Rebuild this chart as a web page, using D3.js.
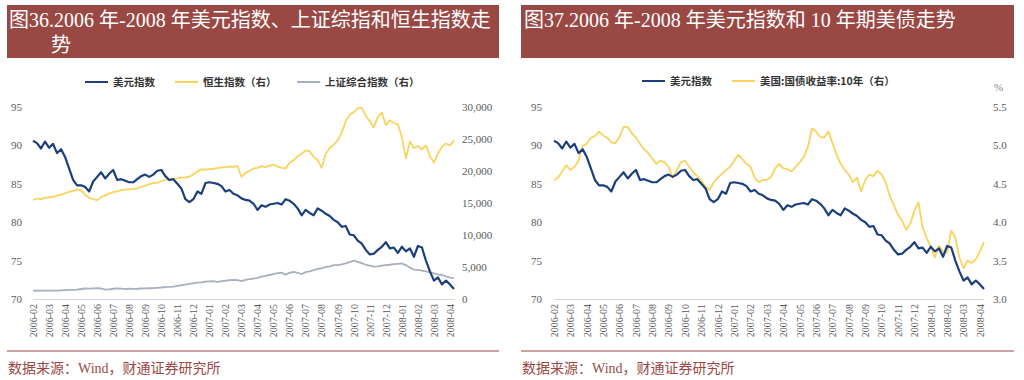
<!DOCTYPE html>
<html>
<head>
<meta charset="utf-8">
<script src="https://cdn.jsdelivr.net/npm/d3@7/dist/d3.min.js"></script>
<style>
    body { margin: 0; background: #fff; }
    svg { display: block; }
    .title { fill: #fff; font-family: "Liberation Serif", "Noto Sans CJK SC", serif; font-size: 20px; }
    .legend text { fill: #333; font-family: "Noto Sans CJK SC", sans-serif; font-size: 10.5px; font-weight: bold; }
    .axis text { fill: #595959; font-family: "Liberation Serif", serif; font-size: 11px; }
    .axis--x text { font-size: 10px; }
    .source { fill: #9a4844; font-family: "Liberation Serif", "Noto Sans CJK SC", serif; font-size: 14px; }
</style>
</head>
<body>
<svg id="chart" width="1024" height="380"></svg>
<script>
// month labels on the x axis
var months = [
    '2006-02', '2006-03', '2006-04', '2006-05', '2006-06', '2006-07', '2006-08', '2006-09',
    '2006-10', '2006-11', '2006-12', '2007-01', '2007-02', '2007-03', '2007-04', '2007-05',
    '2007-06', '2007-07', '2007-08', '2007-09', '2007-10', '2007-11', '2007-12', '2008-01',
    '2008-02', '2008-03', '2008-04'
];

// one value every quarter month, starting at 2006-02
var usdIndex = [
    90.6, 90.3, 89.6, 90.5,  89.7, 90.2, 89.0, 89.5,  88.5, 87.0, 85.5, 84.8,
    84.8, 84.6, 84.0, 85.3,  85.9, 86.5, 85.7, 86.3,  86.8, 85.5, 85.6, 85.4,
    85.2, 85.2, 85.6, 86.0,  86.2, 85.9, 86.2, 86.7,  86.8, 86.0, 85.5, 85.6,
    85.0, 84.4, 83.0, 82.6,  83.0, 84.0, 83.7, 85.1,  85.2, 85.1, 85.0, 84.7,
    84.0, 84.2, 83.7, 83.5,  83.1, 82.9, 82.8, 82.4,  81.6, 82.2, 82.0, 82.3,
    82.4, 82.5, 82.3, 83.0,  82.8, 82.4, 81.8, 80.9,  81.6, 81.2, 80.9, 81.8,
    81.5, 81.1, 80.8, 80.3,  80.0, 79.4, 79.5, 78.4,  78.3, 77.6, 77.2, 76.4,
    75.8, 75.9, 76.4, 76.8,  77.4, 76.6, 76.7, 76.0,  76.8, 76.2, 76.6, 75.5,
    76.9, 76.7, 75.0, 73.6,  72.4, 72.8, 71.9, 72.4,  71.9, 71.3
];

var hangSeng = [
    15470, 15700, 15600, 15800,  15900, 16000, 16100, 16300,  16550, 16750, 16900, 17100,
    17000, 16300, 15800, 15600,  15450, 15900, 16200, 16500,  16700, 16800, 17000, 17100,
    17150, 17200, 17300, 17500,  17700, 17950, 18100, 18200,  18400, 18600, 18700, 18800,
    18850, 18950, 19000, 19100,  19500, 19900, 20250, 20200,  20300, 20350, 20450, 20550,
    20600, 20700, 20650, 20750,  19100, 19700, 20000, 20400,  20500, 20750, 20600, 20850,
    21000, 20700, 20500, 20400,  21300, 21700, 22300, 22700,  23200, 23100, 22200, 21700,
    20500, 22700, 23600, 24100,  24800, 26000, 27800, 28800,  29200, 29800, 29900, 28600,
    27800, 26800, 28500, 29100,  27200, 27900, 27500, 27300,  25300, 22000, 24600, 23600,
    23900, 23400, 24000, 22300,  21300, 22700, 23800, 24300,  24000, 24800
];

var shanghai = [
    1300, 1290, 1300, 1320,  1300, 1320, 1310, 1340,  1380, 1420, 1440, 1480,
    1560, 1640, 1620, 1660,  1700, 1640, 1450, 1520,  1600, 1660, 1620, 1550,
    1600, 1580, 1600, 1640,  1650, 1680, 1700, 1750,  1800, 1840, 1880, 1950,
    2050, 2150, 2250, 2350,  2450, 2550, 2600, 2700,  2750, 2800, 2650, 2800,
    2850, 2950, 3000, 2950,  2800, 3000, 3100, 3200,  3300, 3500, 3600, 3750,
    3900, 4050, 4100, 3800,  4100, 4250, 4100, 3900,  4200, 4300, 4500, 4700,
    4800, 5000, 5100, 5300,  5300, 5400, 5550, 5750,  5990, 5800, 5600, 5350,
    5200, 5050, 5100, 5200,  5300, 5350, 5450, 5500,  5550, 5300, 4900, 4600,
    4550, 4450, 4300, 4150,  4000, 3850, 3750, 3550,  3350, 3250
];

var us10y = [
    4.55, 4.58, 4.66, 4.74,  4.68, 4.72, 4.80, 4.99,  5.02, 5.10, 5.12, 5.18,
    5.13, 5.10, 5.04, 5.03,  5.11, 5.24, 5.24, 5.16,  5.10, 5.02, 4.95, 4.90,
    4.83, 4.76, 4.80, 4.78,  4.72, 4.58, 4.68, 4.78,  4.80, 4.72, 4.65, 4.60,
    4.54, 4.46, 4.42, 4.52,  4.58, 4.63, 4.68, 4.72,  4.80, 4.88, 4.82, 4.76,
    4.72, 4.58, 4.52, 4.55,  4.55, 4.59, 4.70, 4.76,  4.70, 4.69, 4.66, 4.72,
    4.78, 4.85, 4.98, 5.22,  5.18, 5.11, 5.10, 5.18,  5.03, 4.88, 4.76, 4.68,
    4.62, 4.52, 4.58, 4.40,  4.55, 4.62, 4.60, 4.67,  4.62, 4.52, 4.34, 4.22,
    4.10, 4.02, 3.90, 3.98,  4.15, 4.26, 3.93, 3.80,  3.68, 3.54, 3.69, 3.62,
    3.60, 3.89, 3.80, 3.54,  3.40, 3.50, 3.47, 3.52,  3.62, 3.74
];

var STEP = 0.25;
var BLUE = '#1b3f7c', YELLOW = '#f9d35e', GREY = '#a8afbf', RED = '#9a4844';

var svg = d3.select('#chart');

function toPoints(values) {
    return values.map((v, i) => ({ m: i * STEP, v: v }));
}

function drawPanel(p) {
    var g = svg.append('g').attr('class', 'panel');

    // Banner
    g.append('rect')
        .attr('x', p.left).attr('y', 5)
        .attr('width', p.width).attr('height', 53)
        .attr('fill', RED)
    ;
    p.title.forEach(line => {
        g.append('text').attr('class', 'title')
            .attr('x', line.x).attr('y', line.y)
            .text(line.text)
        ;
    });

    // Legend
    var legend = g.append('g').attr('class', 'legend');
    p.legend.forEach(item => {
        legend.append('line')
            .attr('x1', item.x).attr('x2', item.x + 23)
            .attr('y1', p.legendY).attr('y2', p.legendY)
            .attr('stroke', item.color).attr('stroke-width', 2)
        ;
        legend.append('text')
            .attr('x', item.x + 28).attr('y', p.legendY)
            .attr('dy', '0.35em')
            .text(item.label)
        ;
    });

    var x  = d3.scaleLinear().domain([0, 26.25]).range(p.xRange);
    var yL = d3.scaleLinear().domain([70, 95]).range([299, 107]);
    var yR = d3.scaleLinear().domain(p.rightDomain).range([299, 107]);

    // Axes
    g.append('g')
        .attr('class', 'axis axis--left')
        .attr('transform', `translate(${ p.xRange[0] },0)`)
        .call(d3.axisLeft(yL).tickValues(d3.range(70, 96, 5)).tickSize(0).tickPadding(p.leftPad))
        .call(a => a.select('.domain').remove())
    ;
    g.append('g')
        .attr('class', 'axis axis--right')
        .attr('transform', `translate(${ p.xRange[1] },0)`)
        .call(d3.axisRight(yR).tickValues(p.rightTicks).tickFormat(p.rightFormat).tickSize(0).tickPadding(p.rightPad))
        .call(a => a.select('.domain').remove())
    ;
    g.append('g')
        .attr('class', 'axis axis--x')
        .attr('transform', 'translate(0,299)')
        .call(d3.axisBottom(x).tickValues(d3.range(months.length)).tickFormat(i => months[i]).tickSize(0).tickSizeOuter(0))
        .call(a => a.select('.domain').attr('stroke', '#d9d9d9'))
        .call(a => a.selectAll('text')
            .attr('transform', 'rotate(-90)')
            .attr('text-anchor', 'end')
            .attr('x', -5).attr('y', 0).attr('dy', '0.33em'))
    ;

    if (p.unit) {
        g.append('text').attr('class', 'axis')
            .attr('x', p.unit.x).attr('y', p.unit.y)
            .attr('fill', '#888').attr('font-family', 'Liberation Serif').attr('font-size', 11)
            .text(p.unit.text)
        ;
    }

    // Series
    p.series.forEach(s => {
        var y = s.right ? yR : yL;
        g.append('path')
            .datum(toPoints(s.values))
            .attr('fill', 'none')
            .attr('stroke', s.color)
            .attr('stroke-width', s.width)
            .attr('stroke-linejoin', 'round')
            .attr('d', d3.line().x(d => x(d.m)).y(d => y(d.v)))
        ;
    });

    // Footer
    g.append('line')
        .attr('x1', p.left).attr('x2', p.left + p.width)
        .attr('y1', 351).attr('y2', 351)
        .attr('stroke', RED).attr('stroke-width', 1.2)
    ;
    g.append('text').attr('class', 'source')
        .attr('x', p.left + 1).attr('y', 373)
        .text('数据来源：Wind，财通证券研究所')
    ;
}

drawPanel({
    left: 7, width: 492,
    title: [
        { text: '图36.2006 年-2008 年美元指数、上证综指和恒生指数走', x: 9, y: 27 },
        { text: '势', x: 51, y: 52 }
    ],
    legendY: 82,
    legend: [
        { label: '美元指数', color: BLUE, x: 85 },
        { label: '恒生指数（右）', color: YELLOW, x: 175 },
        { label: '上证综合指数（右）', color: GREY, x: 297 }
    ],
    xRange: [33, 454],
    leftPad: 11,
    rightPad: 8,
    rightDomain: [0, 30000],
    rightTicks: d3.range(0, 30001, 5000),
    rightFormat: d3.format(','),
    series: [
        { values: shanghai, color: GREY, width: 1.8, right: true },
        { values: hangSeng, color: YELLOW, width: 1.8, right: true },
        { values: usdIndex, color: BLUE, width: 2.2 }
    ]
});

drawPanel({
    left: 521, width: 493,
    title: [
        { text: '图37.2006 年-2008 年美元指数和 10 年期美债走势', x: 524, y: 27 }
    ],
    legendY: 81,
    legend: [
        { label: '美元指数', color: BLUE, x: 642 },
        { label: '美国:国债收益率:10年（右）', color: YELLOW, x: 732 }
    ],
    xRange: [554, 984],
    leftPad: 12,
    rightPad: 9,
    rightDomain: [3.0, 5.5],
    rightTicks: d3.range(3.0, 5.51, 0.5),
    rightFormat: d3.format('.1f'),
    unit: { text: '%', x: 994, y: 91 },
    series: [
        { values: us10y, color: YELLOW, width: 1.8, right: true },
        { values: usdIndex, color: BLUE, width: 2.2 }
    ]
});
</script>
</body>
</html>
